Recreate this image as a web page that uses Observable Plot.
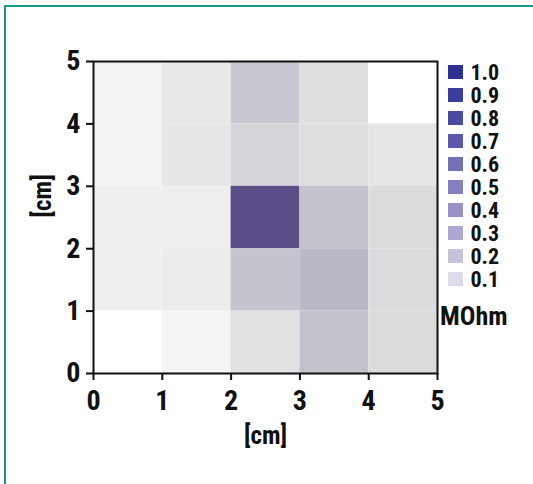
<!DOCTYPE html>
<html>
<head>
<meta charset="utf-8">
<script src="https://cdn.jsdelivr.net/npm/d3@7"></script>
<script src="https://cdn.jsdelivr.net/npm/@observablehq/plot@0.6"></script>
<style>
  html, body { margin: 0; padding: 0; background: #fff; }
  #wrap { position: relative; width: 533px; height: 484px; overflow: hidden;
    font-family: "Liberation Sans Narrow", "Roboto Condensed", "DejaVu Sans Condensed", "Arial Narrow", sans-serif;
    font-stretch: condensed; font-weight: bold; }
  #border { position: absolute; left: 4px; top: 5px; width: 600px; height: 600px;
    border-top: 2px solid #169b8b; border-left: 2px solid #169b8b; }
  #main { position: absolute; left: 0; top: 0; }
  #legend { position: absolute; left: 440px; top: 55px; }
  #unit { position: absolute; left: 440px; top: 303px; font-size: 26px; line-height: 1; color: #111; }
</style>
</head>
<body>
<div id="wrap">
  <div id="border"></div>
  <div id="main"></div>
  <div id="legend"></div>
  <div id="unit">MOhm</div>
</div>
<script>
// Grid columns (x, cm) and rows (y, cm), listed top row first
const xCells = [0, 1, 2, 3, 4];
const yRows = [4, 3, 2, 1, 0];
// Resistance values (MOhm), one array per row, top to bottom
const row4 = [0.035, 0.065, 0.19, 0.095, 0.0];
const row3 = [0.035, 0.07, 0.13, 0.095, 0.075];
const row2 = [0.045, 0.05, 0.88, 0.2, 0.1];
const row1 = [0.045, 0.055, 0.2, 0.25, 0.1];
const row0 = [0.0, 0.03, 0.085, 0.21, 0.1];
const rows = [row4, row3, row2, row1, row0];

const axisTicks = [0, 1, 2, 3, 4, 5];
const axisLabel = "[cm]";

// Legend
const legendLabels = ["1.0", "0.9", "0.8", "0.7", "0.6", "0.5", "0.4", "0.3", "0.2", "0.1"];
const legendColors = ["#2e3192", "#3c3d9b", "#4a4aa2", "#5d59aa", "#7470b4", "#8480bd", "#9893c7", "#aba7d1", "#c5c2de", "#dddbeb"];

const cells = [];
yRows.forEach((y, i) => xCells.forEach((x, j) => cells.push({x, y, v: rows[i][j]})));

const font = getComputedStyle(document.getElementById("wrap")).fontFamily;

const main = Plot.plot({
  width: 533,
  height: 484,
  marginLeft: 93,
  marginRight: 96,
  marginTop: 61,
  marginBottom: 111,
  style: {fontFamily: font, fontSize: "28px", fontWeight: "bold", color: "#111", background: "transparent", overflow: "visible"},
  x: {domain: [0, 5], label: null},
  y: {domain: [0, 5], label: null},
  color: {type: "linear", domain: [0, 0.1, 0.25, 0.9], range: ["#ffffff", "#dcdcde", "#bab7c6", "#574a86"], interpolate: "rgb"},
  marks: [
    Plot.rect(cells, {x1: "x", x2: d => d.x + 1, y1: "y", y2: d => d.y + 1, fill: "v"}),
    Plot.frame({stroke: "#111", strokeWidth: 2}),
    Plot.axisX({ticks: axisTicks, tickFormat: "d", tickSize: 7, tickPadding: 10, strokeWidth: 2, label: null}),
    Plot.axisY({ticks: axisTicks, tickFormat: "d", tickSize: 7, tickPadding: 6, strokeWidth: 2, label: null}),
    Plot.text([axisLabel], {frameAnchor: "bottom", dy: 70, fontSize: 25, fontWeight: "bold"}),
    Plot.text([axisLabel], {frameAnchor: "left", dx: -51, rotate: -90, fontSize: 25, fontWeight: "bold"})
  ]
});
document.getElementById("main").appendChild(main);

const legendData = legendLabels.map((l, i) => ({label: l, color: legendColors[i]}));
const legend = Plot.plot({
  width: 93,
  height: 240,
  marginLeft: 8,
  marginRight: 70,
  marginTop: 4,
  marginBottom: 3,
  style: {fontFamily: font, fontSize: "22px", fontWeight: "bold", color: "#111", background: "transparent", overflow: "visible"},
  x: {domain: [0, 1], axis: null},
  y: {type: "band", domain: legendLabels, paddingInner: 0.4, paddingOuter: 0.2, axis: null},
  color: {type: "identity"},
  marks: [
    Plot.barX(legendData, {x1: 0, x2: 1, y: "label", fill: "color"}),
    Plot.text(legendData, {x: 1, dx: 7, y: "label", text: "label", textAnchor: "start", fill: "#111"})
  ]
});
document.getElementById("legend").appendChild(legend);
</script>
</body>
</html>
